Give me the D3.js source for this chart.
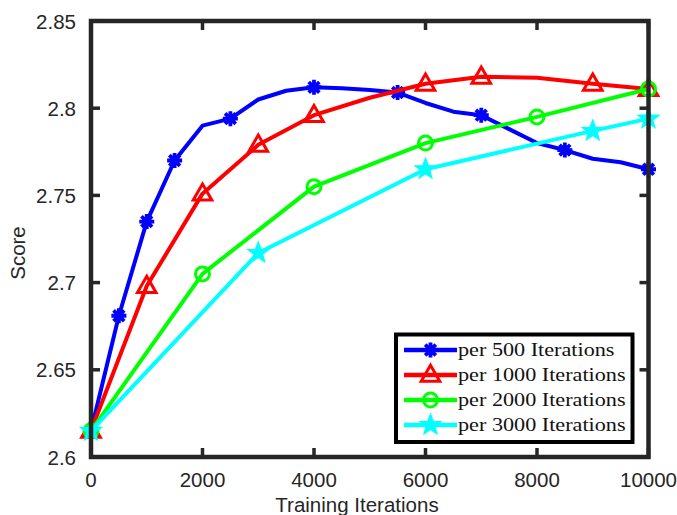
<!DOCTYPE html>
<html>
<head>
<meta charset="utf-8">
<script src="https://cdn.jsdelivr.net/npm/d3@7"></script>
<style>
  html, body { margin: 0; padding: 0; background: #fff; }
  svg { display: block; }
</style>
</head>
<body>
<svg id="chart" width="677" height="515"></svg>
<script>
// ---- data ----
const xTicks = [0, 2000, 4000, 6000, 8000, 10000];
const yTicks = [2.6, 2.65, 2.7, 2.75, 2.8, 2.85];
const yTickLabels = ["2.6", "2.65", "2.7", "2.75", "2.8", "2.85"];

const iter500 = [0,500,1000,1500,2000,2500,3000,3500,4000,4500,5000,5500,6000,6500,7000,7500,8000,8500,9000,9500,10000];
const score500 = [2.615,2.681,2.735,2.770,2.790,2.794,2.805,2.810,2.812,2.8115,2.8105,2.809,2.803,2.798,2.796,2.788,2.780,2.776,2.771,2.769,2.765];
const markers500 = [0,1,2,3,5,8,11,14,17,20];

const iter1000 = [0,1000,2000,3000,4000,5000,6000,7000,8000,9000,10000];
const score1000 = [2.615,2.698,2.751,2.779,2.796,2.806,2.814,2.818,2.8175,2.814,2.811];
const markers1000 = [0,1,2,3,4,6,7,9,10];

const iter2000 = [0,2000,4000,6000,8000,10000];
const score2000 = [2.615,2.705,2.755,2.780,2.795,2.811];
const markers2000 = [0,1,2,3,4,5];

const iter3000 = [0,3000,6000,9000,10000];
const score3000 = [2.615,2.717,2.765,2.787,2.794];
const markers3000 = [0,1,2,3,4];

const seriesNames = ["per 500 Iterations","per 1000 Iterations","per 2000 Iterations","per 3000 Iterations"];
const seriesColors = ["#0000ff","#ff0000","#00ff00","#00ffff"];
const seriesShapes = ["asterisk","triangle","circle","star"];

const xLabel = "Training Iterations";
const yLabel = "Score";

// ---- layout ----
const svg = d3.select("#chart");
const L = 91, R = 648.5, T = 21, B = 457;
const x = d3.scaleLinear().domain([0, 10000]).range([L, R]);
const y = d3.scaleLinear().domain([2.6, 2.85]).range([B, T]);
const axisColor = "#262626";
const tickFont = "Liberation Sans, Arial, Helvetica, sans-serif";

const series = [
  {xs: iter500, ys: score500, mk: markers500},
  {xs: iter1000, ys: score1000, mk: markers1000},
  {xs: iter2000, ys: score2000, mk: markers2000},
  {xs: iter3000, ys: score3000, mk: markers3000}
].map((s, i) => ({...s, name: seriesNames[i], color: seriesColors[i], shape: seriesShapes[i]}));

// marker drawing
function drawMarker(g, shape, color, cx, cy) {
  if (shape === "asterisk") {
    const r = 7.5;
    let d = "";
    for (let k = 0; k < 4; k++) {
      const a = k * Math.PI / 4;
      d += `M${cx - r*Math.cos(a)},${cy - r*Math.sin(a)}L${cx + r*Math.cos(a)},${cy + r*Math.sin(a)}`;
    }
    g.append("path").attr("d", d).attr("stroke", color).attr("stroke-width", 3.8).attr("fill", "none");
    g.append("circle").attr("cx", cx).attr("cy", cy).attr("r", 4).attr("fill", color);
  } else if (shape === "triangle") {
    const s = d3.symbol().type(d3.symbolTriangle).size(150);
    g.append("path").attr("d", s()).attr("transform", `translate(${cx},${cy+1})`)
      .attr("stroke", color).attr("stroke-width", 3).attr("fill", "none");
  } else if (shape === "circle") {
    g.append("circle").attr("cx", cx).attr("cy", cy).attr("r", 7)
      .attr("stroke", color).attr("stroke-width", 3).attr("fill", "none");
  } else if (shape === "star") {
    const ro = 11, ri = 4.6;
    const pts = [];
    for (let k = 0; k < 10; k++) {
      const a = -Math.PI/2 + k * Math.PI / 5;
      const rr = k % 2 === 0 ? ro : ri;
      pts.push([cx + rr*Math.cos(a), cy + rr*Math.sin(a)]);
    }
    g.append("path").attr("d", "M" + pts.map(p => p.join(",")).join("L") + "Z")
      .attr("fill", color).attr("stroke", color).attr("stroke-width", 1.2).attr("stroke-linejoin", "miter");
  }
}

// ---- data lines ----
const line = d3.line().x(d => x(d[0])).y(d => y(d[1]));
const plotG = svg.append("g");
series.forEach(s => {
  const pts = s.xs.map((v, i) => [v, s.ys[i]]);
  plotG.append("path").datum(pts).attr("d", line)
    .attr("fill", "none").attr("stroke", s.color).attr("stroke-width", 4)
    .attr("stroke-linejoin", "round");
  s.mk.forEach(i => drawMarker(plotG, s.shape, s.color, x(s.xs[i]), y(s.ys[i])));
});

// ---- axes box ----
const axG = svg.append("g");
axG.append("rect").attr("x", L).attr("y", T).attr("width", R - L).attr("height", B - T)
  .attr("fill", "none").attr("stroke", axisColor).attr("stroke-width", 4.5);

const tickLen = 9;
xTicks.forEach(v => {
  axG.append("line").attr("x1", x(v)).attr("x2", x(v)).attr("y1", B).attr("y2", B - tickLen)
    .attr("stroke", axisColor).attr("stroke-width", 3.5);
  axG.append("line").attr("x1", x(v)).attr("x2", x(v)).attr("y1", T).attr("y2", T + tickLen)
    .attr("stroke", axisColor).attr("stroke-width", 3.5);
  axG.append("text").attr("x", x(v)).attr("y", 487).attr("text-anchor", "middle")
    .attr("font-family", tickFont).attr("font-size", 20.5).attr("fill", axisColor).text(v);
});
yTicks.forEach((v, i) => {
  axG.append("line").attr("x1", L).attr("x2", L + tickLen).attr("y1", y(v)).attr("y2", y(v))
    .attr("stroke", axisColor).attr("stroke-width", 3.5);
  axG.append("line").attr("x1", R).attr("x2", R - tickLen).attr("y1", y(v)).attr("y2", y(v))
    .attr("stroke", axisColor).attr("stroke-width", 3.5);
  axG.append("text").attr("x", 76).attr("y", y(v) + 7.5).attr("text-anchor", "end")
    .attr("font-family", tickFont).attr("font-size", 20.5).attr("fill", axisColor).text(yTickLabels[i]);
});

// axis labels
svg.append("text").attr("x", 357).attr("y", 512).attr("text-anchor", "middle")
  .attr("font-family", tickFont).attr("font-size", 20.5).attr("fill", axisColor).text(xLabel);
svg.append("text").attr("transform", "translate(25,253) rotate(-90)").attr("text-anchor", "middle")
  .attr("font-family", tickFont).attr("font-size", 20.5).attr("fill", axisColor).text(yLabel);

// ---- legend ----
const lg = svg.append("g");
lg.append("rect").attr("x", 396).attr("y", 334.5).attr("width", 236.5).attr("height", 107.5)
  .attr("fill", "#fff").attr("stroke", "#000").attr("stroke-width", 4);
series.forEach((s, i) => {
  const cy = 350 + i * 25;
  lg.append("line").attr("x1", 404).attr("x2", 457).attr("y1", cy).attr("y2", cy)
    .attr("stroke", s.color).attr("stroke-width", 4.5);
  drawMarker(lg, s.shape, s.color, 430.5, cy);
  lg.append("text").attr("transform", `translate(458,${cy + 6}) scale(1.2,1)`)
    .attr("font-family", "Liberation Serif, Times New Roman, serif")
    .attr("font-size", 18.5).attr("fill", "#111").text(s.name);
});
</script>
</body>
</html>
